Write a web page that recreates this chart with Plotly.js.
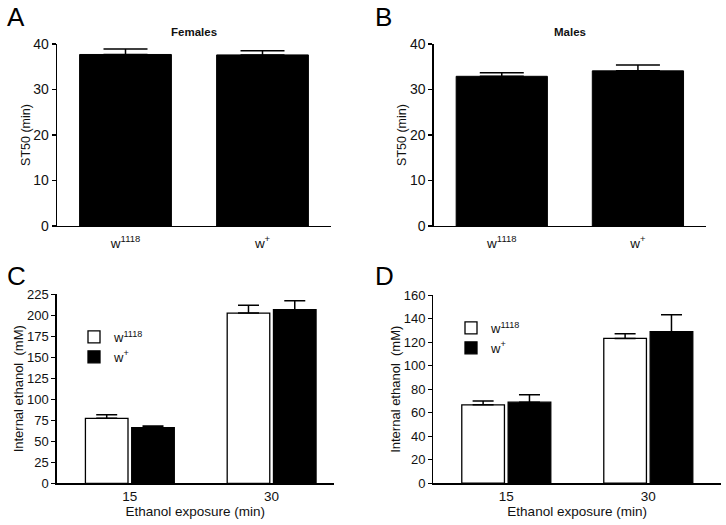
<!DOCTYPE html>
<html>
<head>
<meta charset="utf-8">
<script src="https://cdn.plot.ly/plotly-3.0.1.min.js"></script>
<style>html,body{margin:0;padding:0;background:#fff;}#chart{width:726px;height:525px;}</style>
</head>
<body>
<div id="chart"></div>
<script>
// ---- data ----
var genotypes = ['w<sup>1118</sup>', 'w<sup>+</sup>'];
var femalesST50 = [37.7, 37.6];
var femalesSEM = [1.2, 0.9];
var malesST50 = [32.9, 34.1];
var malesSEM = [0.8, 1.3];
var exposureMin = ['15', '30'];
var femW1118 = [77.3, 202.7];
var femW1118SEM = [4.3, 9.2];
var femWplus = [66.3, 206.6];
var femWplusSEM = [2.0, 10.8];
var maleW1118 = [66.7, 123.3];
var maleW1118SEM = [3.2, 4.0];
var maleWplus = [69.0, 129.0];
var maleWplusSEM = [6.3, 14.5];
var noMinus = [0, 0];
var seriesNames = ['w<sup>1118</sup>', 'w<sup>+</sup>'];

var W = 726, H = 525;
function xd(a, b) { return [a / W, b / W]; }
function yd(top, bottom) { return [1 - bottom / H, 1 - top / H]; }

var FONT = 'Liberation Sans, Arial, sans-serif';
function errY(arr, w) {
  return {type: 'data', symmetric: false, array: arr, arrayminus: noMinus,
          color: '#000', thickness: 1.5, width: w};
}

var traces = [
  {type: 'bar', x: genotypes, y: femalesST50, xaxis: 'x', yaxis: 'y',
   width: 0.67, marker: {color: '#000', line: {color: '#000', width: 1}},
   error_y: errY(femalesSEM, 22), showlegend: false},
  {type: 'bar', x: genotypes, y: malesST50, xaxis: 'x2', yaxis: 'y2',
   width: 0.67, marker: {color: '#000', line: {color: '#000', width: 1}},
   error_y: errY(malesSEM, 22), showlegend: false},
  {type: 'bar', name: seriesNames[0], x: exposureMin, y: femW1118, xaxis: 'x3', yaxis: 'y3',
   marker: {color: '#fff', line: {color: '#000', width: 1.3}},
   error_y: errY(femW1118SEM, 10.5), legend: 'legend'},
  {type: 'bar', name: seriesNames[1], x: exposureMin, y: femWplus, xaxis: 'x3', yaxis: 'y3',
   marker: {color: '#000', line: {color: '#000', width: 1.3}},
   error_y: errY(femWplusSEM, 10.5), legend: 'legend'},
  {type: 'bar', name: seriesNames[0], x: exposureMin, y: maleW1118, xaxis: 'x4', yaxis: 'y4',
   marker: {color: '#fff', line: {color: '#000', width: 1.3}},
   error_y: errY(maleW1118SEM, 10.5), legend: 'legend2'},
  {type: 'bar', name: seriesNames[1], x: exposureMin, y: maleWplus, xaxis: 'x4', yaxis: 'y4',
   marker: {color: '#000', line: {color: '#000', width: 1.3}},
   error_y: errY(maleWplusSEM, 10.5), legend: 'legend2'}
];

function yax(dom, range, dtick, anchor, title, tfs, titlefs) {
  return {domain: dom, range: range, dtick: dtick, anchor: anchor,
    showline: true, linecolor: '#000', linewidth: 1.3, ticks: 'outside', ticklen: 4,
    tickwidth: 1.3, tickcolor: '#000', showgrid: false, zeroline: false,
    tickfont: {family: FONT, size: tfs, color: '#111'},
    title: {text: title, font: {family: FONT, size: titlefs, color: '#111'}, standoff: 0},
    fixedrange: true};
}
function xax(dom, range, anchor, title, tfs, lblOff) {
  var o = {domain: dom, range: range, anchor: anchor, type: 'category',
    showline: true, linecolor: '#000', linewidth: 1.3, ticks: '', showgrid: false,
    zeroline: false, tickfont: {family: FONT, size: tfs, color: '#111'}, fixedrange: true,
    ticklabelstandoff: lblOff};
  if (title) o.title = {text: title, font: {family: FONT, size: 13.5, color: '#111'}, standoff: 2};
  return o;
}

var layout = {
  width: W, height: H,
  margin: {l: 0, r: 0, t: 0, b: 0},
  paper_bgcolor: '#fff', plot_bgcolor: '#fff',
  barmode: 'group', bargap: 0.347, bargroupgap: 0.08,
  font: {family: FONT, color: '#111'},
  xaxis: xax(xd(57, 331), [-0.5, 1.5], 'y', null, 13.5, 4),
  yaxis: yax(yd(44, 226), [0, 40], 10, 'x', 'ST50 (min)', 14, 12.5),
  xaxis2: xax(xd(433.7, 706), [-0.5, 1.5], 'y2', null, 13.5, 4),
  yaxis2: yax(yd(44, 226), [0, 40], 10, 'x2', 'ST50 (min)', 14, 12.5),
  xaxis3: xax(xd(56.7, 334), [-0.516, 1.44], 'y3', 'Ethanol exposure (min)', 13.5, 0),
  yaxis3: yax(yd(294.3, 483.3), [0, 225], 25, 'x3', 'Internal ethanol  (mM)', 13, 13),
  xaxis4: xax(xd(433.3, 721), [-0.514, 1.512], 'y4', 'Ethanol exposure (min)', 13.5, 0),
  yaxis4: yax(yd(295.3, 483.2), [0, 160], 20, 'x4', 'Internal ethanol  (mM)', 13, 13),
  legend: {x: 74 / W, y: 1 - 322 / H, xanchor: 'left', yanchor: 'top',
    bgcolor: 'rgba(0,0,0,0)', font: {family: FONT, size: 13, color: '#111'},
    traceorder: 'normal', itemwidth: 30, tracegroupgap: 0},
  legend2: {x: 451 / W, y: 1 - 313 / H, xanchor: 'left', yanchor: 'top',
    bgcolor: 'rgba(0,0,0,0)', font: {family: FONT, size: 13, color: '#111'},
    traceorder: 'normal', itemwidth: 30, tracegroupgap: 0},
  annotations: [
    {text: '<b>Females</b>', xref: 'paper', yref: 'paper', x: 194 / W, y: 1 - 32 / H,
     showarrow: false, xanchor: 'center', yanchor: 'middle', font: {family: FONT, size: 11.5, color: '#111'}},
    {text: '<b>Males</b>', xref: 'paper', yref: 'paper', x: 570 / W, y: 1 - 32 / H,
     showarrow: false, xanchor: 'center', yanchor: 'middle', font: {family: FONT, size: 11.5, color: '#111'}},
    {text: 'A', xref: 'paper', yref: 'paper', x: 5 / W, y: 1 - 16.5 / H, showarrow: false,
     xanchor: 'left', yanchor: 'middle', font: {family: FONT, size: 26, color: '#000'}},
    {text: 'B', xref: 'paper', yref: 'paper', x: 373 / W, y: 1 - 16.5 / H, showarrow: false,
     xanchor: 'left', yanchor: 'middle', font: {family: FONT, size: 26, color: '#000'}},
    {text: 'C', xref: 'paper', yref: 'paper', x: 5 / W, y: 1 - 276 / H, showarrow: false,
     xanchor: 'left', yanchor: 'middle', font: {family: FONT, size: 26, color: '#000'}},
    {text: 'D', xref: 'paper', yref: 'paper', x: 373 / W, y: 1 - 276 / H, showarrow: false,
     xanchor: 'left', yanchor: 'middle', font: {family: FONT, size: 26, color: '#000'}}
  ]
};

Plotly.newPlot('chart', traces, layout, {displayModeBar: false, staticPlot: true});
</script>
</body>
</html>
